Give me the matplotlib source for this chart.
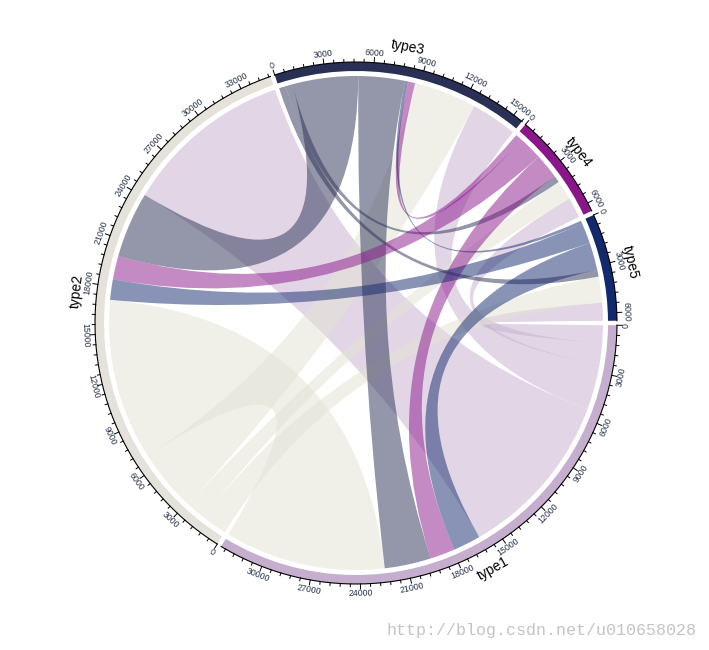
import numpy as np
import matplotlib
matplotlib.use('Agg')
import matplotlib.pyplot as plt
from matplotlib.path import Path
from matplotlib.patches import PathPatch, Wedge

# sectors and colours
sectors = ['type1', 'type2', 'type3', 'type4', 'type5']
grid_colors = ['#C6AFCE', '#E4E2DA', '#2A2F55', '#8B168B', '#13296D']
link_colors = ['#C6AFCE', '#E2E2D4', '#2A2F55', '#8B168B', '#13296D']

# link values, rows = from, cols = to
flow = np.array([
    [0,     10750, 2950, 1300, 1150],
    [10250, 0,     4000, 1250, 1650],
    [2950,  4200,  0,    430,  440],
    [1600,  1500,  450,  0,    0],
    [1750,  1300,  200,  0,    0],
])

major_step = 3000
minor_step = 600

# geometry in pixels
W, H = 709, 650
cx, cy = 356, 323
r_link = 247
r_in, r_out = 252, 261
gap = 1.0
start_deg = 0.5

n = len(sectors)
tot = flow.sum(axis=1) + flow.sum(axis=0)
k = (360.0 - gap * n) / tot.sum()

sec_start = []
a = start_deg
for i in range(n):
    sec_start.append(a)
    a += tot[i] * k + gap

# position of every link end inside the sectors
out_pos = {}
in_pos = {}
for i in range(n):
    pos = 0
    for j in reversed(range(n)):
        if j != i and flow[i, j] > 0:
            out_pos[(i, j)] = (pos, pos + flow[i, j])
            pos += flow[i, j]
    for j in reversed(range(n)):
        if j != i and flow[j, i] > 0:
            in_pos[(j, i)] = (pos, pos + flow[j, i])
            pos += flow[j, i]


def ang(i, v):
    return sec_start[i] + v * k


def pt(theta, r):
    t = np.radians(theta)
    return (cx + r * np.cos(t), cy + r * np.sin(t))


def arc(t1, t2, r, num=60):
    return [pt(t, r) for t in np.linspace(t1, t2, num)]


fig = plt.figure(figsize=(W / 100, H / 100), dpi=100)
ax = fig.add_axes([0, 0, 1, 1])
ax.set_xlim(0, W)
ax.set_ylim(H, 0)
ax.axis('off')

# links
for i in range(n):
    for j in range(n):
        if (i, j) not in out_pos:
            continue
        a1, a2 = [ang(i, v) for v in out_pos[(i, j)]]
        b1, b2 = [ang(j, v) for v in in_pos[(i, j)]]
        verts = arc(a1, a2, r_link)
        codes = [Path.MOVETO] + [Path.LINETO] * (len(verts) - 1)
        verts += [(cx, cy), pt(b1, r_link)]
        codes += [Path.CURVE3, Path.CURVE3]
        va = arc(b1, b2, r_link)[1:]
        verts += va
        codes += [Path.LINETO] * len(va)
        verts += [(cx, cy), pt(a1, r_link)]
        codes += [Path.CURVE3, Path.CURVE3]
        verts.append(pt(a1, r_link))
        codes.append(Path.CLOSEPOLY)
        ax.add_patch(PathPatch(Path(verts, codes), facecolor=link_colors[i],
                               alpha=0.5, edgecolor='none', lw=0))


def text_rot(theta):
    rot = (-theta - 90) % 360
    if 90 < rot <= 270:
        return rot - 180, 'top'
    if rot > 270:
        rot -= 360
    return rot, 'bottom'


# tracks, axes, labels
for i in range(n):
    s = sec_start[i]
    e = ang(i, tot[i])
    ax.add_patch(Wedge((cx, cy), r_out, s, e, width=r_out - r_in,
                       facecolor=grid_colors[i], edgecolor='none'))
    xs, ys = zip(*arc(s, e, r_out, 200))
    ax.plot(xs, ys, color='black', lw=0.8)
    for v in range(0, int(tot[i]) + 1, minor_step):
        t = ang(i, v)
        major = v % major_step == 0
        p1 = pt(t, r_out)
        p2 = pt(t, r_out + (5 if major else 2.8))
        ax.plot([p1[0], p2[0]], [p1[1], p2[1]], color='black', lw=0.7)
        if major:
            rot, vav = text_rot(t)
            x, y = pt(t, r_out + 5)
            ax.text(x, y, str(v), rotation=rot, rotation_mode='anchor',
                    ha='center', va=vav, fontsize=6.3, color='#26324a',
                    family='Liberation Sans')
    tm = (s + e) / 2
    rot, vav = text_rot(tm)
    x, y = pt(tm, 274)
    ax.text(x, y, sectors[i], rotation=rot, rotation_mode='anchor',
            ha='center', va=vav, fontsize=10, color='black',
            family='Liberation Sans')

ax.text(697, 630, 'http://blog.csdn.net/u010658028', ha='right', va='center',
        fontsize=12, color='#c4c4c4', family='Liberation Mono')

fig.savefig('out.png', dpi=100)
